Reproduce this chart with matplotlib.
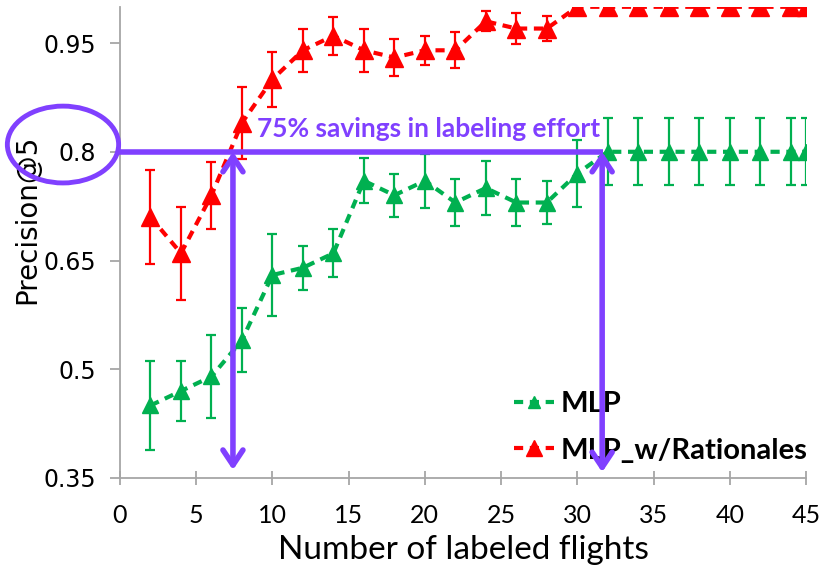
import numpy as np
import matplotlib
matplotlib.use('Agg')
import matplotlib.pyplot as plt
from matplotlib.patches import Ellipse, FancyArrowPatch
from matplotlib.lines import Line2D

# Number of labeled flights
flights = [2, 4, 6, 8, 10, 12, 14, 16, 18, 20, 22, 24, 26, 28, 30, 32, 34, 36, 38, 40, 42, 44, 45]

mlp_prec = [0.45, 0.47, 0.49, 0.54, 0.63, 0.64, 0.66, 0.76, 0.74, 0.76, 0.73, 0.75,
            0.73, 0.73, 0.77, 0.80, 0.80, 0.80, 0.80, 0.80, 0.80, 0.80, 0.80]
mlp_err = [0.061, 0.042, 0.057, 0.044, 0.056, 0.03, 0.033, 0.031, 0.03, 0.037, 0.033, 0.037,
           0.033, 0.03, 0.046, 0.046, 0.046, 0.046, 0.046, 0.046, 0.046, 0.046, 0.046]

rat_prec = [0.71, 0.66, 0.74, 0.84, 0.90, 0.94, 0.96, 0.94, 0.93, 0.94, 0.94, 0.98,
            0.97, 0.97, 1.0, 1.0, 1.0, 1.0, 1.0, 1.0, 1.0, 1.0, 1.0]
rat_err = [0.065, 0.064, 0.046, 0.05, 0.038, 0.03, 0.026, 0.03, 0.026, 0.02, 0.025, 0.014,
           0.022, 0.017, 0, 0, 0, 0, 0, 0, 0, 0, 0]

green = '#00B050'
red = '#FF0000'
purple = '#8040FF'
gray = '#A6A6A6'
dash = (0, (2.2, 1.6))

fig = plt.figure(figsize=(8.23, 5.67), dpi=100)
ax = fig.add_axes([0.1458, 0.157, 0.8335, 0.831])

for y, err, color, ms in [(mlp_prec, mlp_err, green, 11), (rat_prec, rat_err, red, 12.5)]:
    ax.errorbar(flights, y, yerr=err, fmt='none', ecolor=color, elinewidth=1.6,
                capsize=3.5, capthick=1.6, zorder=3)
    ax.plot(flights, y, linestyle=dash, color=color, linewidth=3,
            marker='^', markersize=ms, zorder=4)

ax.set_xlim(0, 45)
ax.set_ylim(0.35, 1.0)
ax.set_xticks(range(0, 46, 5))
ax.set_yticks([0.35, 0.5, 0.65, 0.8, 0.95])
ax.set_yticklabels(['0.35', '0.5', '0.65', '0.8', '0.95'])

for side in ['top', 'right']:
    ax.spines[side].set_visible(False)
for side in ['left', 'bottom']:
    ax.spines[side].set_color(gray)
    ax.spines[side].set_linewidth(1.3)
ax.tick_params(axis='x', direction='inout', length=10, width=1.3, color=gray, pad=14,
               labelsize=18)
ax.tick_params(axis='y', direction='out', length=7, width=1.3, color=gray, pad=10,
               labelsize=17)
for lab in ax.get_xticklabels():
    lab.set_family('Lato')

ax.set_xlabel('Number of labeled flights', family='Lato', fontsize=24, va='center')
ax.xaxis.set_label_coords(0.5, -0.152)
ax.set_ylabel('Precision@5', fontsize=20, va='center')
ax.yaxis.set_label_coords(-0.1356, 0.55)

# annotation: equal-precision line and the two flight counts
ax.plot([-0.1, 31.7], [0.8, 0.8], color=purple, linewidth=4, clip_on=False,
        solid_capstyle='butt', zorder=5)
ax.add_patch(Ellipse((-3.74, 0.81), 7.3, 0.106, fill=False, edgecolor=purple,
                     linewidth=3.5, clip_on=False, zorder=5))
for xa, yb in [(7.41, 0.361), (31.63, 0.358)]:
    ax.add_patch(FancyArrowPatch((xa, 0.8), (xa, yb), arrowstyle='<->,head_length=6,head_width=4',
                                 color=purple, linewidth=4, mutation_scale=1.8,
                                 shrinkA=0, shrinkB=0, zorder=6))
ax.text(8.99, 0.831, '75% savings in labeling effort', color=purple, fontsize=19,
        fontweight='bold', family='Lato', va='center', ha='left', zorder=6)

handles = [
    Line2D([0], [0], color=green, linestyle=dash, linewidth=3, marker='^',
           markersize=9, label='MLP'),
    Line2D([0], [0], color=red, linestyle=dash, linewidth=3, marker='^',
           markersize=12, label='MLP_w/Rationales'),
]
leg = ax.legend(handles=handles, loc='lower right', bbox_to_anchor=(1.04, -0.025), frameon=False,
                prop={'family': 'Lato', 'weight': 'bold', 'size': 21}, handlelength=1.4,
                handletextpad=0.2, labelspacing=0.7)

fig.savefig('out.png', dpi=100)
